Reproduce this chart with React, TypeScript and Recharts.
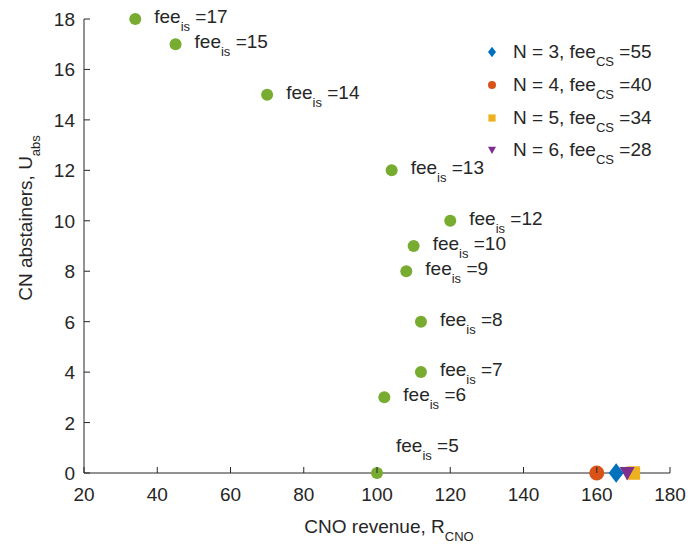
import React from 'react';
import { ScatterChart, Scatter, XAxis, YAxis, LabelList, Label } from 'recharts';

const feeIs = [17, 15, 14, 13, 12, 10, 9, 8, 7, 6, 5];
const revenueIs = [34, 45, 70, 104, 120, 110, 108, 112, 112, 102, 100];
const abstainersIs = [18, 17, 15, 12, 10, 9, 8, 6, 4, 3, 0];

const nValues = [3, 4, 5, 6];
const feeCS = [55, 40, 34, 28];
const revenueCS = [165.3, 160, 170, 168.3];
const abstainersCS = [0, 0, 0, 0];

const xTicks = [20, 40, 60, 80, 100, 120, 140, 160, 180];
const yTicks = [0, 2, 4, 6, 8, 10, 12, 14, 16, 18];

const FONT = '"Liberation Sans", Arial, Helvetica, sans-serif';
const TXT = '#262626';
const colors = ['#0072BD', '#D95319', '#EDB120', '#7E2F8E'];
const GREEN = '#77AC30';
const FS = 19;
const SUB = 13;

const isData = feeIs.map((f, i) => ({ x: revenueIs[i], y: abstainersIs[i], fee: f }));
const csData = nValues.map((n, i) => [{ x: revenueCS[i], y: abstainersCS[i], n, fee: feeCS[i] }]);

const shapeFor = (kind: string, color: string, size: number) => (props: any) => {
  const { cx, cy } = props;
  const r = size / 2;
  if (kind === 'circle') return <circle cx={cx} cy={cy} r={r} fill={color} />;
  if (kind === 'diamond')
    return <polygon points={`${cx},${cy - r * 1.3} ${cx + r},${cy} ${cx},${cy + r * 1.3} ${cx - r},${cy}`} fill={color} />;
  if (kind === 'square') return <rect x={cx - r * 0.9} y={cy - r * 0.9} width={r * 1.8} height={r * 1.8} fill={color} />;
  return <polygon points={`${cx - r},${cy - r * 0.8} ${cx + r},${cy - r * 0.8} ${cx},${cy + r}`} fill={color} />;
};

const kinds = ['diamond', 'circle', 'square', 'triangle'];

const FeeLabel = (props: any) => {
  const { x, y, width, height, value, index } = props;
  const cx = x + (width || 0) / 2;
  const cy = y + (height || 0) / 2;
  const isLast = feeIs[index] === 5;
  const tx = cx + 19;
  const ty = isLast ? cy - 21 : cy + 4;
  return (
    <text x={tx} y={ty} fontFamily={FONT} fontSize={FS} fill={TXT}>
      fee
      <tspan dy={8} fontSize={SUB}>is</tspan>
      <tspan dy={-8}>{` =${value}`}</tspan>
    </text>
  );
};

const XTick = (props: any) => {
  const { x, y, payload } = props;
  return (
    <g>
      <line x1={x} y1={y} x2={x} y2={y - 6} stroke={TXT} strokeWidth={1} />
      <text x={x} y={y + 28} textAnchor="middle" fontFamily={FONT} fontSize={FS} fill={TXT}>
        {payload.value}
      </text>
    </g>
  );
};

const YTick = (props: any) => {
  const { x, y, payload } = props;
  return (
    <g>
      <line x1={x} y1={y} x2={x + 6} y2={y} stroke={TXT} strokeWidth={1} />
      <text x={x - 9} y={y + 7} textAnchor="end" fontFamily={FONT} fontSize={FS} fill={TXT}>
        {payload.value}
      </text>
    </g>
  );
};

const XLabel = () => (
  <text x={389} y={533} textAnchor="middle" fontFamily={FONT} fontSize={FS} fill={TXT}>
    CNO revenue, R
    <tspan dy={8} fontSize={SUB}>CNO</tspan>
  </text>
);

const YLabel = () => {
  const cy = 218;
  const lx = 32;
  return (
    <text
      x={lx}
      y={cy}
      textAnchor="middle"
      transform={`rotate(-90, ${lx}, ${cy})`}
      fontFamily={FONT}
      fontSize={FS}
      fill={TXT}
    >
      CN abstainers, U
      <tspan dy={8} fontSize={SUB}>abs</tspan>
    </text>
  );
};

const LegendBox = () => (
  <div style={{ position: 'absolute', left: 482, top: 36, fontFamily: FONT, fontSize: FS, color: TXT }}>
    {nValues.map((n, i) => (
      <div key={n} style={{ display: 'flex', alignItems: 'center', height: 32.7 }}>
        <svg width={20} height={20} style={{ marginRight: 11 }}>
          {shapeFor(kinds[i], colors[i], 8)({ cx: 10, cy: 10 })}
        </svg>
        <span style={{ whiteSpace: 'nowrap' }}>
          N = {n}, fee<sub style={{ fontSize: SUB, verticalAlign: -8, lineHeight: 0 }}>CS</sub> ={feeCS[i]}
        </span>
      </div>
    ))}
  </div>
);

export default function App() {
  return (
    <div style={{ position: 'absolute', left: 0, top: 0, width: 692, height: 546, background: '#fff' }}>
      <ScatterChart width={692} height={546} margin={{ top: 19, right: 22, bottom: 0, left: 24 }}>
        <XAxis
          type="number"
          dataKey="x"
          domain={[20, 180]}
          ticks={xTicks}
          height={73}
          tickSize={0}
          tickMargin={0}
          tickLine={false}
          stroke={TXT}
          tick={<XTick />}
        >
          <Label content={<XLabel />} />
        </XAxis>
        <YAxis
          type="number"
          dataKey="y"
          domain={[0, 18]}
          ticks={yTicks}
          width={60}
          tickSize={0}
          tickMargin={0}
          tickLine={false}
          stroke={TXT}
          tick={<YTick />}
        >
          <Label content={<YLabel />} />
        </YAxis>
        <Scatter data={isData} isAnimationActive={false} shape={shapeFor('circle', GREEN, 12)}>
          <LabelList dataKey="fee" content={<FeeLabel />} />
        </Scatter>
        {csData.map((d, i) => (
          <Scatter key={i} data={d} isAnimationActive={false} shape={shapeFor(kinds[i], colors[i], 15)} />
        ))}
      </ScatterChart>
      <LegendBox />
    </div>
  );
}
